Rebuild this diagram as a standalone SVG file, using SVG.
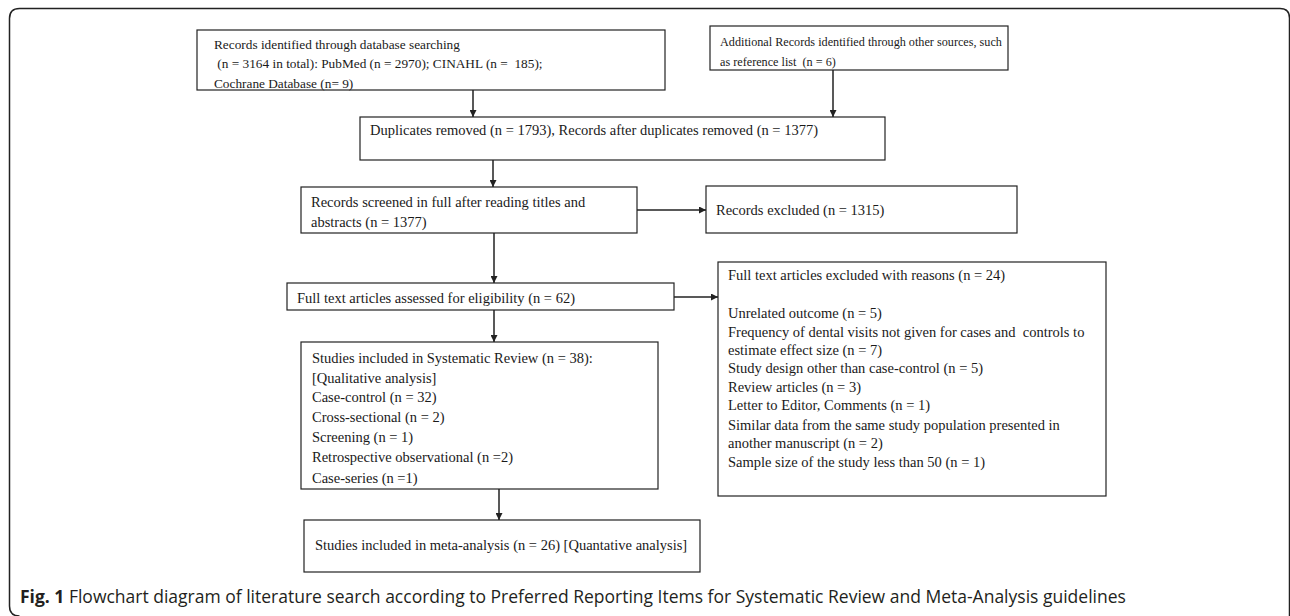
<svg xmlns="http://www.w3.org/2000/svg" width="1290" height="616" viewBox="0 0 1290 616">
<style>
.box{fill:#fff;stroke:#222;stroke-width:1.2}
.t{font-family:"Liberation Serif","Times New Roman",serif;fill:#1a1a1a;font-size:14.5px;white-space:pre}
.s13{font-size:13.3px}
.s12{font-size:12.2px}
.con{stroke:#222;stroke-width:1.5;fill:none;marker-end:url(#ah)}
.cap{font-family:"Open Sans","Noto Sans",sans-serif;font-size:17.5px;fill:#231f20}
</style>
<defs>
<marker id="ah" markerUnits="userSpaceOnUse" markerWidth="7" markerHeight="7" refX="7" refY="3.5" orient="auto">
<path d="M0,0 L7,3.5 L0,7 z" fill="#222"/>
</marker>
</defs>
<rect width="1290" height="616" fill="#fff"/>
<path d="M9.5,606 V18.5 Q9.5,8.5 19.5,8.5 H1280 Q1289.5,8.5 1289.5,18 V625" fill="none" stroke="#222" stroke-width="1.5"/>
<path d="M9.5,606 Q9.5,616 19.5,616" fill="none" stroke="#222" stroke-width="1.5"/>

<g id="n1">
<rect class="box" x="197" y="30" width="468" height="60"/>
<text class="t s13"><tspan x="214" y="49">Records identified through database searching</tspan><tspan x="214" y="68"> (n = 3164 in total): PubMed (n = 2970); CINAHL (n =  185);</tspan><tspan x="214" y="88">Cochrane Database (n= 9)</tspan></text>
</g>
<g id="n2">
<rect class="box" x="710" y="26" width="298" height="44"/>
<text class="t s12"><tspan x="720" y="46">Additional Records identified through other sources, such</tspan><tspan x="720" y="66">as reference list  (n = 6)</tspan></text>
</g>
<g id="n3">
<rect class="box" x="360" y="117" width="525" height="43"/>
<text class="t" x="370" y="135">Duplicates removed (n = 1793), Records after duplicates removed (n = 1377)</text>
</g>
<g id="n4">
<rect class="box" x="301" y="187" width="336" height="46"/>
<text class="t"><tspan x="311" y="207">Records screened in full after reading titles and</tspan><tspan x="311" y="227">abstracts (n = 1377)</tspan></text>
</g>
<g id="n5">
<rect class="box" x="706" y="186" width="311" height="47"/>
<text class="t" x="716" y="215">Records excluded (n = 1315)</text>
</g>
<g id="n6">
<rect class="box" x="287" y="283" width="387" height="27"/>
<text class="t" x="297" y="303">Full text articles assessed for eligibility (n = 62)</text>
</g>
<g id="n7">
<rect class="box" x="718" y="262" width="388" height="234"/>
<text class="t"><tspan x="728" y="280">Full text articles excluded with reasons (n = 24)</tspan><tspan x="728" y="318">Unrelated outcome (n = 5)</tspan><tspan x="728" y="337">Frequency of dental visits not given for cases and  controls to</tspan><tspan x="728" y="355">estimate effect size (n = 7)</tspan><tspan x="728" y="373">Study design other than case-control (n = 5)</tspan><tspan x="728" y="392">Review articles (n = 3)</tspan><tspan x="728" y="410">Letter to Editor, Comments (n = 1)</tspan><tspan x="728" y="430">Similar data from the same study population presented in</tspan><tspan x="728" y="448">another manuscript (n = 2)</tspan><tspan x="728" y="467">Sample size of the study less than 50 (n = 1)</tspan></text>
</g>
<g id="n8">
<rect class="box" x="301" y="342" width="357" height="147"/>
<text class="t"><tspan x="312" y="363">Studies included in Systematic Review (n = 38):</tspan><tspan x="312" y="383">[Qualitative analysis]</tspan><tspan x="312" y="402">Case-control (n = 32)</tspan><tspan x="312" y="422">Cross-sectional (n = 2)</tspan><tspan x="312" y="442">Screening (n = 1)</tspan><tspan x="312" y="462">Retrospective observational (n =2)</tspan><tspan x="312" y="483">Case-series (n =1)</tspan></text>
</g>
<g id="n9">
<rect class="box" x="304" y="520" width="396" height="52"/>
<text class="t" x="315" y="550">Studies included in meta-analysis (n = 26) [Quantative analysis]</text>
</g>

<g id="connectors">
<path class="con" d="M473,90 V117"/>
<path class="con" d="M833,70 V117"/>
<path class="con" d="M493,160 V187"/>
<path class="con" d="M637,210 H706"/>
<path class="con" d="M494,233 V283"/>
<path class="con" d="M674,297 H718"/>
<path class="con" d="M494,310 V342"/>
<path class="con" d="M499,489 V520"/>
</g>

<text class="cap" x="20" y="603"><tspan font-weight="bold">Fig. 1</tspan> Flowchart diagram of literature search according to Preferred Reporting Items for Systematic Review and Meta-Analysis guidelines</text>
</svg>
